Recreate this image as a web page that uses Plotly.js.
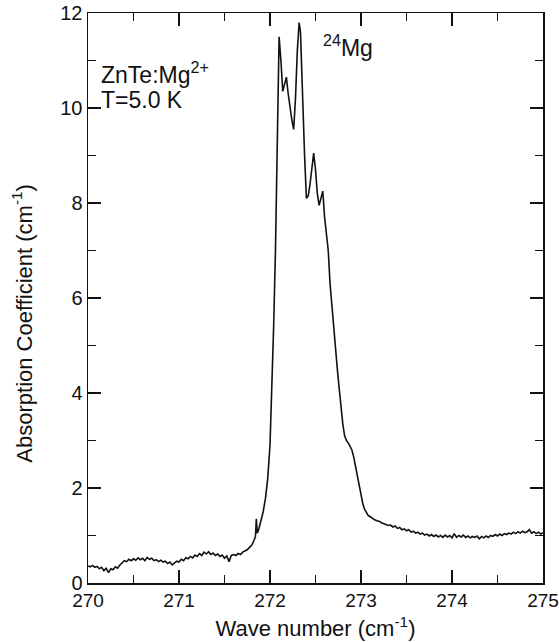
<!DOCTYPE html>
<html>
<head>
<meta charset="utf-8">
<script src="https://cdn.plot.ly/plotly-3.0.1.min.js"></script>
<style>html,body{margin:0;padding:0;background:#fff;}#chart{width:559px;height:642px;}</style>
</head>
<body>
<div id="chart"></div>
<script>
const wavenumber = [
270.000,270.025,270.050,270.075,270.100,270.125,270.150,270.175,270.200,270.225,270.250,270.275,270.300,270.325,270.350,270.375,270.400,270.425,270.450,270.475,
270.500,270.525,270.550,270.575,270.600,270.625,270.650,270.675,270.700,270.725,270.750,270.775,270.800,270.825,270.850,270.875,270.900,270.925,270.950,270.975,
271.000,271.025,271.050,271.075,271.100,271.125,271.150,271.175,271.200,271.225,271.250,271.275,271.300,271.325,271.350,271.375,271.400,271.425,271.450,271.475,
271.500,271.525,271.550,271.575,271.600,271.625,271.650,271.675,271.700,271.725,271.750,271.775,271.800,271.825,271.840,271.850,271.860,271.875,271.900,271.925,
271.950,271.975,272.000,272.020,272.040,272.060,272.080,272.100,272.120,272.140,272.160,272.180,272.200,272.220,272.240,272.260,272.280,272.300,272.320,272.335,
272.360,272.380,272.400,272.420,272.440,272.460,272.480,272.500,272.520,272.540,272.560,272.580,272.600,272.620,272.640,272.660,272.680,272.700,272.720,272.740,
272.760,272.780,272.800,272.820,272.840,272.860,272.880,272.900,272.920,272.940,272.960,272.980,273.000,273.020,273.040,273.060,273.080,273.100,273.125,273.150,
273.175,273.200,273.225,273.250,273.275,273.300,273.325,273.350,273.375,273.400,273.425,273.450,273.475,273.500,273.525,273.550,273.575,273.600,273.625,273.650,
273.675,273.700,273.725,273.750,273.775,273.800,273.825,273.850,273.875,273.900,273.925,273.950,273.975,274.000,274.025,274.050,274.075,274.100,274.125,274.150,
274.175,274.200,274.225,274.250,274.275,274.300,274.325,274.350,274.375,274.400,274.425,274.450,274.475,274.500,274.525,274.550,274.575,274.600,274.625,274.650,
274.675,274.700,274.725,274.750,274.775,274.800,274.825,274.850,274.875,274.900,274.925,274.950,274.975,275.000
];
const absorption = [
0.36,0.34,0.37,0.33,0.35,0.30,0.33,0.26,0.31,0.22,0.30,0.28,0.34,0.31,0.38,0.42,0.47,0.45,0.50,0.47,
0.51,0.48,0.53,0.49,0.52,0.47,0.54,0.50,0.52,0.47,0.49,0.45,0.48,0.44,0.46,0.41,0.44,0.38,0.43,0.46,
0.44,0.50,0.47,0.53,0.51,0.56,0.53,0.59,0.56,0.62,0.58,0.65,0.61,0.66,0.60,0.63,0.58,0.61,0.56,0.59,
0.52,0.57,0.45,0.58,0.60,0.58,0.62,0.60,0.65,0.67,0.70,0.75,0.80,0.90,0.98,1.35,1.05,1.12,1.30,1.50,
1.78,2.20,2.90,4.00,5.40,7.00,9.30,11.50,11.00,10.35,10.50,10.65,10.30,10.00,9.75,9.55,10.20,11.20,11.80,11.60,
10.00,9.00,8.10,8.15,8.40,8.70,9.05,8.70,8.20,7.95,8.10,8.25,7.70,7.40,7.00,6.30,5.80,5.35,4.90,4.50,
4.10,3.70,3.35,3.10,3.00,2.95,2.88,2.80,2.65,2.45,2.25,2.05,1.85,1.67,1.55,1.48,1.42,1.40,1.36,1.33,
1.31,1.30,1.27,1.25,1.24,1.21,1.22,1.18,1.20,1.15,1.17,1.12,1.14,1.10,1.12,1.07,1.09,1.05,1.07,1.03,
1.05,1.01,1.03,0.99,1.02,0.98,1.01,0.97,1.00,0.96,1.01,0.97,1.00,0.95,1.04,0.96,1.00,0.97,1.01,0.96,
0.99,0.95,0.98,0.96,0.99,0.93,0.98,0.95,0.99,0.96,1.00,0.98,1.02,0.99,1.03,1.00,1.04,1.02,1.05,1.03,
1.07,1.04,1.08,1.05,1.09,1.06,1.08,1.12,1.05,1.08,1.04,1.07,1.03,1.06
];
const xTickVals = [270, 271, 272, 273, 274, 275];
const xTickText = ["270", "271", "272", "273", "274", "275"];
const yTickVals = [0, 2, 4, 6, 8, 10, 12];
const yTickText = ["0", "2", "4", "6", "8", "10", "12"];

const FONT = "'Liberation Sans', Arial, Helvetica, sans-serif";

const trace = {
  x: wavenumber, y: absorption, type: 'scatter', mode: 'lines',
  line: {color: '#111', width: 1.6}, hoverinfo: 'skip'
};

const axisCommon = {
  showline: true, linecolor: '#111', linewidth: 1.5, mirror: 'ticks',
  ticks: 'inside', tickcolor: '#111', tickwidth: 1.3, ticklen: 13,
  showgrid: false, zeroline: false,
  tickfont: {family: FONT, size: 19, color: '#111'}
};

const layout = {
  width: 559, height: 642,
  margin: {l: 88, r: 16, t: 13, b: 59},
  paper_bgcolor: '#fff', plot_bgcolor: '#fff',
  showlegend: false,
  xaxis: Object.assign({}, axisCommon, {
    range: [270, 275], tickmode: 'array', tickvals: xTickVals, ticktext: xTickText,
    minor: {dtick: 0.5, ticks: 'inside', ticklen: 8, tickcolor: '#111', tickwidth: 1.3, showgrid: false},
    title: {text: 'Wave number (cm<sup>-1</sup>)', font: {family: FONT, size: 22, color: '#111'}, standoff: 10}
  }),
  yaxis: Object.assign({}, axisCommon, {
    range: [0, 12], tickmode: 'array', tickvals: yTickVals, ticktext: yTickText,
    tickfont: {family: FONT, size: 20, color: '#111'},
    minor: {dtick: 1, ticks: 'inside', ticklen: 8, tickcolor: '#111', tickwidth: 1.3, showgrid: false}
  }),
  annotations: [
    {xref: 'paper', yref: 'paper', x: -0.145, y: 0.455, xanchor: 'center', yanchor: 'middle', showarrow: false,
     textangle: -90, text: 'Absorption Coefficient (cm<sup>-1</sup>)', font: {family: FONT, size: 22, color: '#111'}},
    {xref: 'paper', yref: 'paper', x: 0.025, y: 0.895, xanchor: 'left', yanchor: 'middle', showarrow: false,
     text: 'ZnTe:Mg<sup>2+</sup>', font: {family: FONT, size: 23, color: '#111'}},
    {xref: 'paper', yref: 'paper', x: 0.025, y: 0.847, xanchor: 'left', yanchor: 'middle', showarrow: false,
     text: 'T=5.0 K', font: {family: FONT, size: 23, color: '#111'}},
    {xref: 'paper', yref: 'paper', x: 0.512, y: 0.942, xanchor: 'left', yanchor: 'middle', showarrow: false,
     text: '<sup>24</sup>Mg', font: {family: FONT, size: 23, color: '#111'}}
  ]
};

Plotly.newPlot('chart', [trace], layout, {displayModeBar: false, staticPlot: true});
</script>
</body>
</html>
